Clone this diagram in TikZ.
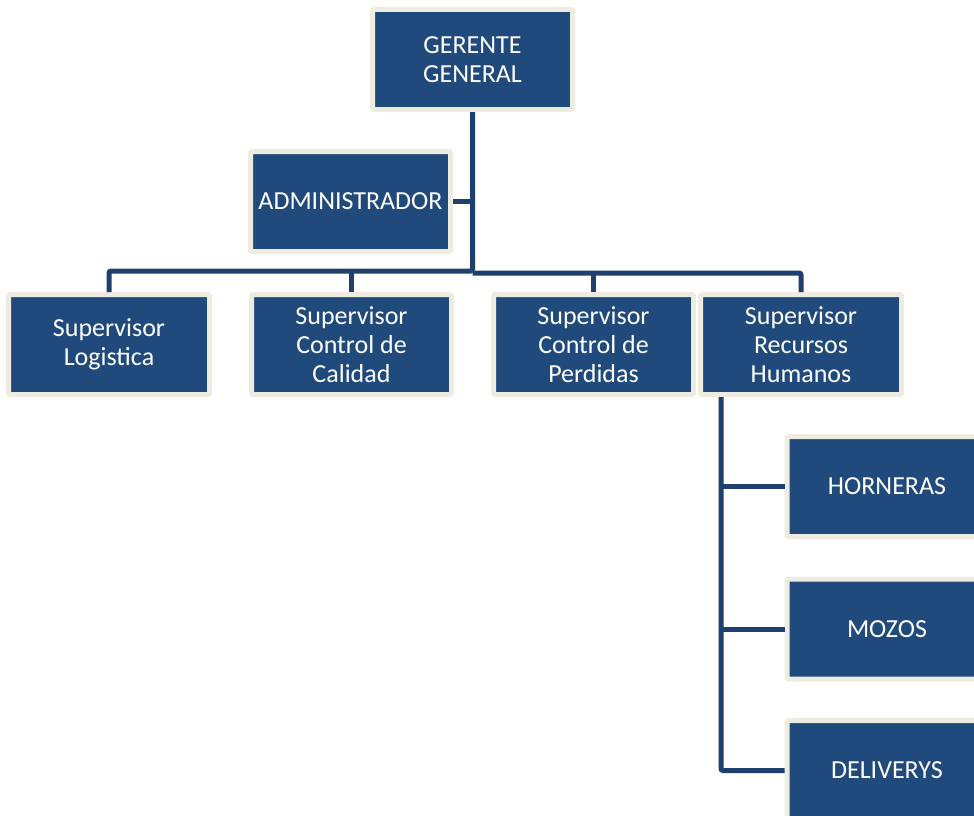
\documentclass[tikz,border=0pt]{standalone}
\usepackage{fontspec}
\setmainfont{Carlito}
\definecolor{boxblue}{HTML}{214A7C}
\definecolor{boxrim}{HTML}{EEECE1}
\definecolor{linkblue}{HTML}{1F3F6E}
\begin{document}
\begin{tikzpicture}[x=1pt,y=-1pt,
  orgbox/.style={rectangle, fill=boxblue, draw=boxrim, line width=5pt,
    rounded corners=2pt, minimum width=200pt, minimum height=100pt,
    inner sep=0pt, text=white, align=center,
    font=\fontsize{26}{29}\selectfont},
  link/.style={draw=linkblue, line width=5pt, rounded corners=2pt}]
\clip (0,0) rectangle (974,816);
\fill[white] (0,0) rectangle (974,816);

% boxes
\node[orgbox] (g)   at (472.5,59.5)  {GERENTE\\GENERAL};
\node[orgbox] (adm) at (350.5,201.5) {ADMINISTRADOR};
\node[orgbox, minimum width=201pt] (s1) at (109,344.5)   {Supervisor\\Logistica};
\node[orgbox] (s2) at (351.5,344.5) {Supervisor\\Control de\\Calidad};
\node[orgbox] (s3) at (593.5,344.5) {Supervisor\\Control de\\Perdidas};
\node[orgbox, minimum width=201pt] (s4) at (801,344.5)   {Supervisor\\Recursos\\Humanos};
\node[orgbox] (h) at (887,486.5) {HORNERAS};
\node[orgbox] (m) at (887,629)   {MOZOS};
\node[orgbox] (d) at (887,770.5) {DELIVERYS};

% connectors from the general manager
\draw[link] (g.south) -- (g.south |- 0,271) -| (s1.north);
\draw[link] (s2.north) -- (s2.north |- 0,271);
\draw[link] (g.south |- 0,273) -| (s4.north);
\draw[link] (s3.north) -- (s3.north |- 0,273);
\draw[link] (adm.east) -- (adm.east -| g.south);

% human resources branch
\coordinate (rh) at (721,397);
\draw[link] (rh) |- (d.west);
\draw[link] (rh |- h.west) -- (h.west);
\draw[link] (rh |- m.west) -- (m.west);
\end{tikzpicture}
\end{document}
